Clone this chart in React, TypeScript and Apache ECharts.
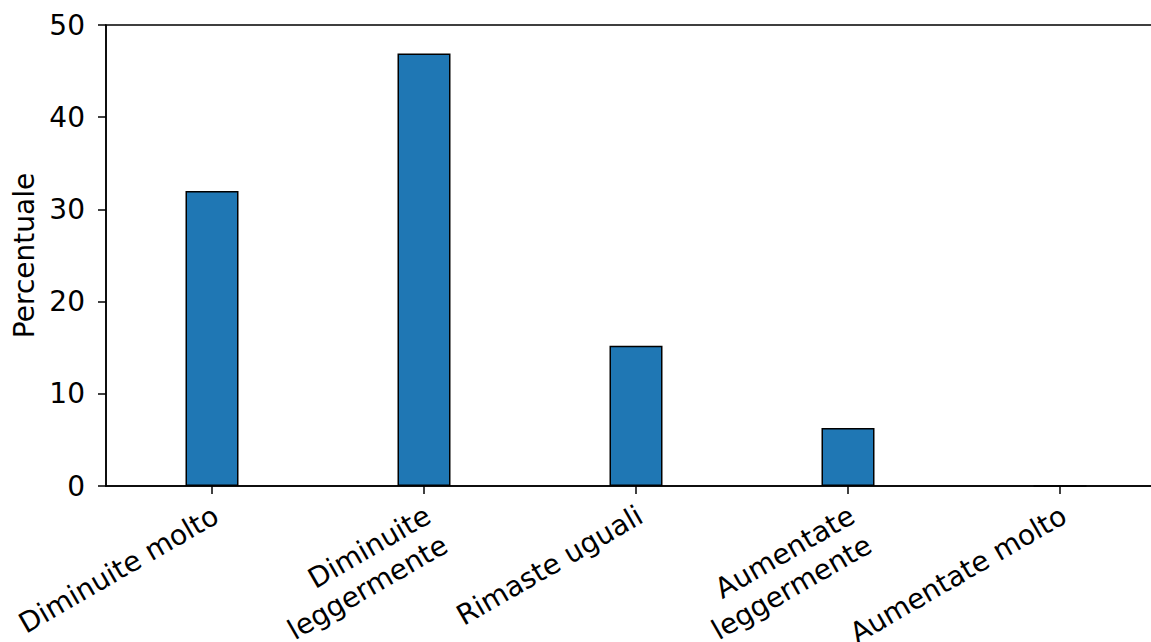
import React, { useEffect, useRef } from "react";
import * as echarts from "echarts";

const categories = [
  "Diminuite molto",
  "Diminuite\nleggermente",
  "Rimaste uguali",
  "Aumentate\nleggermente",
  "Aumentate molto",
];
const percentages = [32.0, 46.9, 15.2, 6.3, 0.0];
const yTicks = { min: 0, max: 50, interval: 10 };
const yAxisName = "Percentuale";

export default function App() {
  const ref = useRef<HTMLDivElement>(null);
  useEffect(() => {
    if (!ref.current) return;
    const chart = echarts.init(ref.current, null, { renderer: "svg" });
    const font = "DejaVu Sans";
    chart.setOption({
      animation: false,
      backgroundColor: "#ffffff",
      grid: {
        left: 106,
        top: 25,
        right: -15,
        bottom: 156,
        containLabel: false,
        outerBoundsMode: "none",
        show: true,
        borderColor: "#000000",
        borderWidth: 1.5,
        backgroundColor: "transparent",
      },
      xAxis: {
        type: "category",
        data: categories,
        axisLine: { show: true, lineStyle: { color: "#000", width: 1.5 } },
        axisTick: { show: true, alignWithLabel: true, length: 8, lineStyle: { color: "#000", width: 1.5 } },
        axisLabel: {
          rotate: 30,
          interval: 0,
          margin: 10,
          align: "right",
          verticalAlign: "top",
          padding: [0, 5, 0, 0],
          color: "#000",
          fontFamily: font,
          fontSize: 28,
          lineHeight: 34,
        },
        splitLine: { show: false },
      },
      yAxis: {
        type: "value",
        min: yTicks.min,
        max: yTicks.max,
        interval: yTicks.interval,
        name: yAxisName,
        nameLocation: "middle",
        nameGap: 67,
        nameRotate: 90,
        nameTextStyle: { color: "#000", fontFamily: font, fontSize: 28 },
        axisLine: { show: true, lineStyle: { color: "#000", width: 1.5 } },
        axisTick: { show: true, length: 8, lineStyle: { color: "#000", width: 1.5 } },
        axisLabel: { color: "#000", fontFamily: font, fontSize: 28, margin: 21 },
        splitLine: { show: false },
      },
      series: [
        {
          type: "bar",
          data: percentages,
          barWidth: "25%",
          itemStyle: { color: "#1f77b4", borderColor: "#000", borderWidth: 1.5 },
        },
      ],
    });
    return () => chart.dispose();
  }, []);
  return (
    <div
      ref={ref}
      style={{ position: "fixed", left: 0, top: 0, width: 1151, height: 642 }}
    />
  );
}
